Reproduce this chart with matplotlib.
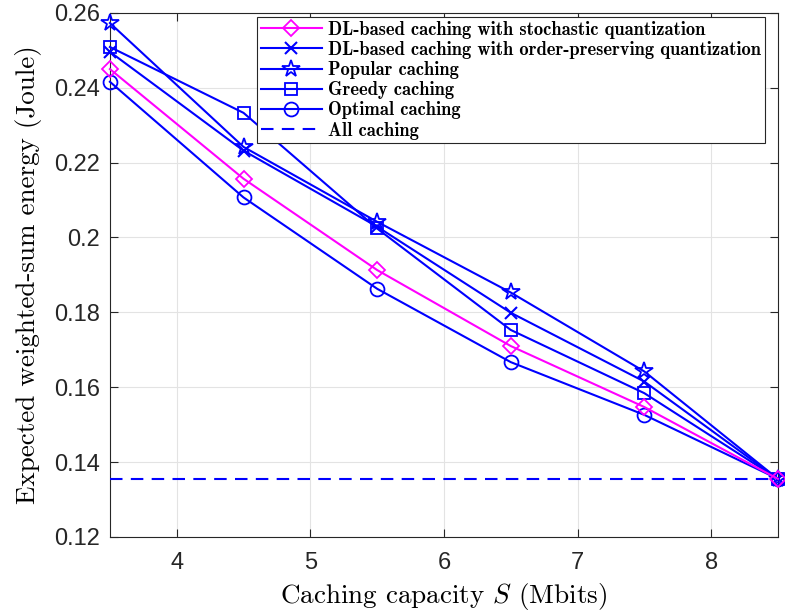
# 缓存容量与期望加权能耗对比图
import matplotlib
matplotlib.use('Agg')
import matplotlib.pyplot as plt

plt.rcParams['mathtext.fontset'] = 'cm'
plt.rcParams['axes.unicode_minus'] = False

# 数据
capacity = [3.5, 4.5, 5.5, 6.5, 7.5, 8.5]
stochastic = [0.2450, 0.2157, 0.1913, 0.1710, 0.1547, 0.1355]
order_preserving = [0.2496, 0.2232, 0.2029, 0.1799, 0.1615, 0.1355]
popular = [0.2573, 0.2242, 0.2042, 0.1853, 0.1642, 0.1355]
greedy = [0.2509, 0.2333, 0.2024, 0.1753, 0.1584, 0.1355]
optimal = [0.2416, 0.2107, 0.1863, 0.1667, 0.1526, 0.1355]
all_caching = 0.1356

labels = ['DL-based caching with stochastic quantization',
          'DL-based caching with order-preserving quantization',
          'Popular caching',
          'Greedy caching',
          'Optimal caching',
          'All caching']

fig = plt.figure(figsize=(7.85, 6.15), dpi=100)
ax = fig.add_axes([0.140, 0.127, 0.851, 0.852])

blue = (0, 0, 1)
mag = (1, 0, 1)
lw = 1.5

ax.plot(capacity, stochastic, color=mag, marker='D', ms=8, mfc='none', mew=1.3, lw=lw,
        label=labels[0], clip_on=False, zorder=5)
ax.plot(capacity, order_preserving, color=blue, marker='x', ms=8, mew=1.5, lw=lw,
        label=labels[1], clip_on=False, zorder=4)
ax.plot(capacity, popular, color=blue, marker='*', ms=13, mfc='none', mew=1.3, lw=lw,
        label=labels[2], clip_on=False, zorder=4)
ax.plot(capacity, greedy, color=blue, marker='s', ms=9, mfc='none', mew=1.3, lw=lw,
        label=labels[3], clip_on=False, zorder=4)
ax.plot(capacity, optimal, color=blue, marker='o', ms=10, mfc='none', mew=1.3, lw=lw,
        label=labels[4], clip_on=False, zorder=4)
ax.axhline(all_caching, color=blue, ls=(0, (6, 4)), lw=lw, label=labels[5], zorder=3)

ax.set_xlim(3.5, 8.5)
ax.set_ylim(0.12, 0.26)
ax.set_xticks([4, 5, 6, 7, 8])
ax.set_yticks([0.12, 0.14, 0.16, 0.18, 0.2, 0.22, 0.24, 0.26])
ax.set_yticklabels(['0.12', '0.14', '0.16', '0.18', '0.2', '0.22', '0.24', '0.26'])
ax.grid(True, color='#e3e3e3', lw=0.8)
ax.set_axisbelow(True)
ax.tick_params(direction='in', top=True, right=True, labelsize=17, colors='#262626',
               length=6, width=0.8)
ax.tick_params(axis='x', pad=11)
ax.tick_params(axis='y', pad=7)
for lab in ax.get_xticklabels() + ax.get_yticklabels():
    lab.set_family('Liberation Sans')
for s in ax.spines.values():
    s.set_color('#262626')
    s.set_linewidth(0.8)

ax.set_xlabel(r'Caching capacity $S$ (Mbits)', fontsize=19.5, family='cmr10')
ax.set_ylabel('Expected weighted-sum energy (Joule)', fontsize=19.5, family='cmr10')
ax.xaxis.set_label_coords(0.5, -0.085)
ax.yaxis.set_label_coords(-0.102, 0.5)

leg = ax.legend(loc='upper right', bbox_to_anchor=(0.9805, 0.9924),
                prop={'family': 'cmb10', 'size': 13.3},
                fancybox=False, edgecolor='#262626', framealpha=1,
                borderpad=0.2, labelspacing=0.12, handlelength=3.3,
                handletextpad=0.35, borderaxespad=0)
leg.get_frame().set_linewidth(0.8)

fig.savefig('out.png', dpi=100)
